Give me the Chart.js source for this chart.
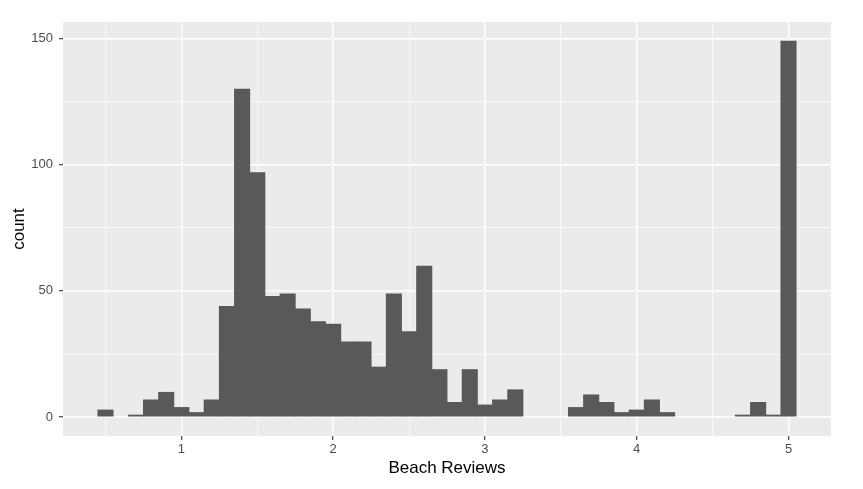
<!DOCTYPE html>
<html>
<head>
<meta charset="utf-8">
<script src="https://cdn.jsdelivr.net/npm/chart.js@4.4.1/dist/chart.umd.min.js"></script>
<style>
  html, body { margin: 0; padding: 0; background: #ffffff; }
  canvas { display: block; }
</style>
</head>
<body>
<canvas id="myChart" width="863" height="489"></canvas>
<script>
// histogram bins (centre of each 0.1 wide bin) and counts
const binCentres = [0.5, 0.6, 0.7, 0.8, 0.9, 1.0, 1.1, 1.2, 1.3, 1.4,
                    1.5, 1.6, 1.7, 1.8, 1.9, 2.0, 2.1, 2.2, 2.3, 2.4,
                    2.5, 2.6, 2.7, 2.8, 2.9, 3.0, 3.1, 3.2, 3.3, 3.4,
                    3.5, 3.6, 3.7, 3.8, 3.9, 4.0, 4.1, 4.2, 4.3, 4.4,
                    4.5, 4.6, 4.7, 4.8, 4.9, 5.0];
const counts = [3, 0, 1, 7, 10, 4, 2, 7, 44, 130,
                97, 48, 49, 43, 38, 37, 30, 30, 20, 49,
                34, 60, 19, 6, 19, 5, 7, 11, 0, 0,
                0, 4, 9, 6, 2, 3, 7, 2, 0, 0,
                0, 0, 1, 6, 1, 149];

const xTicks = [0.5, 1, 1.5, 2, 2.5, 3, 3.5, 4, 4.5, 5];
const xLabels = [1, 2, 3, 4, 5];
const yTicks = [0, 25, 50, 75, 100, 125, 150];
const yLabels = [0, 50, 100, 150];

const panelBg = {
    id: 'panelBg',
    beforeDraw(chart) {
        const a = chart.chartArea;
        const ctx = chart.ctx;
        ctx.save();
        ctx.fillStyle = '#EBEBEB';
        ctx.fillRect(a.left, a.top, a.right - a.left, a.bottom - a.top);
        ctx.restore();
    }
};

// major ticks get a labelled, thicker line; minor ones a thin line only
const isMajor = (c, list) => !!(c.tick && list.includes(c.tick.value));

const tickFont = { family: 'Liberation Sans, Arial, sans-serif', size: 13 };
const titleFont = { family: 'Liberation Sans, Arial, sans-serif', size: 17 };

const ctx = document.getElementById('myChart').getContext('2d');
new Chart(ctx, {
    type: 'bar',
    data: {
        datasets: [{
            label: 'count',
            data: binCentres.map((b, i) => ({ x: b, y: counts[i] })),
            backgroundColor: '#595959',
            borderWidth: 0,
            barPercentage: 1.06,
            categoryPercentage: 1
        }]
    },
    options: {
        responsive: false,
        animation: false,
        layout: { padding: { top: 22, right: 32, left: 0, bottom: 0 } },
        plugins: { legend: { display: false }, tooltip: { enabled: false } },
        scales: {
            x: {
                type: 'linear',
                min: 0.22,
                max: 5.28,
                offset: false,
                afterBuildTicks: s => { s.ticks = xTicks.map(v => ({ value: v })); },
                afterFit: s => { s.height = 53; },
                border: { display: false },
                grid: {
                    offset: false,
                    color: '#FFFFFF',
                    lineWidth: c => (isMajor(c, xLabels) ? 1.4 : 0.7),
                    drawTicks: true,
                    tickLength: 4,
                    tickWidth: 1.1,
                    tickColor: c => (isMajor(c, xLabels) ? '#333333' : 'rgba(0,0,0,0)')
                },
                ticks: {
                    autoSkip: false,
                    maxRotation: 0,
                    padding: 2,
                    color: '#4D4D4D',
                    font: tickFont,
                    callback: v => (xLabels.includes(v) ? String(v) : '')
                },
                title: {
                    display: true,
                    text: 'Beach Reviews',
                    color: '#000000',
                    font: titleFont,
                    padding: { top: 4, bottom: 10 }
                }
            },
            y: {
                min: -7.45,
                max: 156.45,
                afterBuildTicks: s => { s.ticks = yTicks.map(v => ({ value: v })); },
                afterFit: s => { s.width = 63; },
                border: { display: false },
                grid: {
                    color: '#FFFFFF',
                    lineWidth: c => (isMajor(c, yLabels) ? 1.4 : 0.7),
                    drawTicks: true,
                    tickLength: 4,
                    tickWidth: 1.1,
                    tickColor: c => (isMajor(c, yLabels) ? '#333333' : 'rgba(0,0,0,0)')
                },
                ticks: {
                    autoSkip: false,
                    padding: 6,
                    color: '#4D4D4D',
                    font: tickFont,
                    callback: v => (yLabels.includes(v) ? String(v) : '')
                },
                title: {
                    display: true,
                    text: 'count',
                    color: '#000000',
                    font: titleFont,
                    padding: { top: 9, bottom: 4 }
                }
            }
        }
    },
    plugins: [panelBg]
});
</script>
</body>
</html>
